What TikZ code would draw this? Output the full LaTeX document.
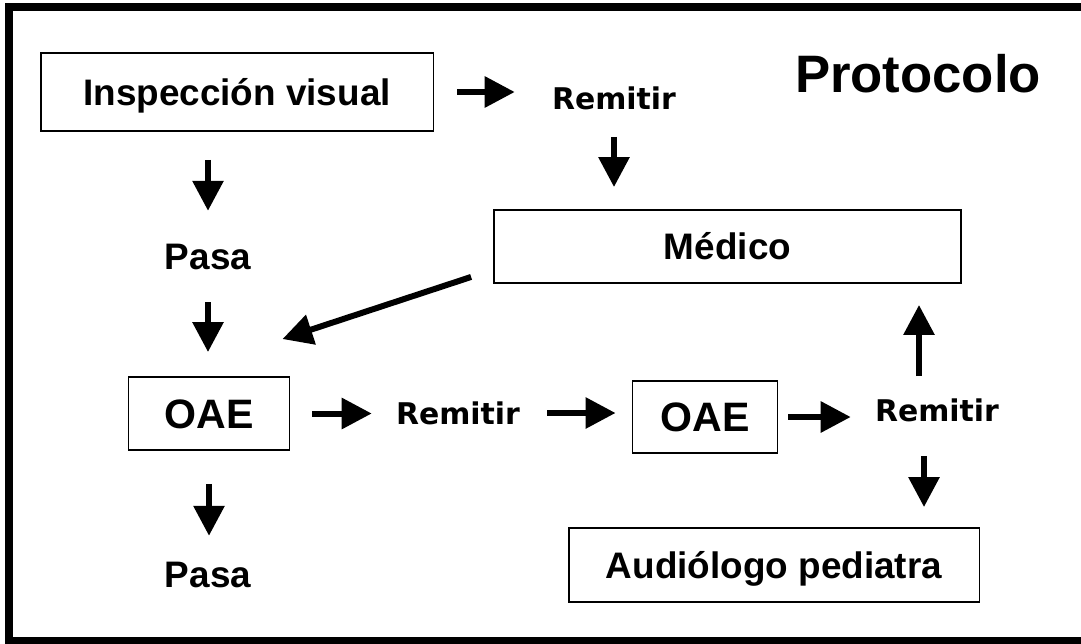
\documentclass[tikz,border=0pt]{standalone}
\usepackage{fontspec}
\setmainfont{Liberation Sans}
\newfontfamily\remfont{DejaVu Sans}
\usetikzlibrary{arrows.meta}

\begin{document}
\begin{tikzpicture}[x=0.02cm, y=-0.02cm,
	box/.style={rectangle, draw=black, line width=1.1pt, inner sep=0pt, text height=15pt, text depth=0pt, font=\fontsize{21}{25}\selectfont\bfseries},
	lbl/.style={inner sep=0pt, font=\fontsize{21}{25}\selectfont\bfseries},
	rem/.style={inner sep=0pt, font=\remfont\fontsize{17}{20}\selectfont\bfseries},
	arr/.style={draw=black, line width=0.12cm, -{Triangle[length=0.6cm, width=0.6cm]}}]
				\useasboundingbox (0,0) rectangle (1081,643);
				\clip (0,0) rectangle (1081,643);
				\draw[line width=0.16cm] (9,7) rectangle (1090,641);
				
				\node[box, minimum width=7.86cm, minimum height=1.56cm] (insp) at (237,92){Inspección visual};
				\node[rem] (rem1) at (614,98){Remitir};
				\node[lbl, font=\fontsize{30}{34}\selectfont\bfseries] (title) at (918,74){Protocolo};
				\node[box, minimum width=9.34cm, minimum height=1.46cm] (medico) at (727.5,246.5){Médico};
				\node[lbl] (pasa1) at (208,257){Pasa};
				\node[box, minimum width=3.22cm, minimum height=1.46cm, text height=16.8pt, font=\fontsize{23.4}{27}\selectfont\bfseries] (oae1) at (209,413.5){OAE};
				\node[rem] (rem2) at (458,413){Remitir};
				\node[box, minimum width=2.9cm, minimum height=1.44cm, text height=16.8pt, font=\fontsize{23.4}{27}\selectfont\bfseries] (oae2) at (705,417){OAE};
				\node[rem] (rem3) at (937,410){Remitir};
				\node[box, minimum width=8.22cm, minimum height=1.48cm] (aud) at (774,565){Audiólogo pediatra};
				\node[lbl] (pasa2) at (208,575){Pasa};
				
				\coordinate (r3n) at ([shift={(-18,0)}]rem3.north);
				\coordinate (r3s) at ([shift={(-13,0)}]rem3.south);
				
				\path (insp.east) edge[arr, shorten <=0.46cm, shorten >=0.74cm] (insp.east -| rem1.west);
				\path (rem1.south) edge[arr, shorten <=0.54cm, shorten >=0.44cm] (rem1.south |- medico.north);
				\path (pasa1.north |- insp.south) edge[arr, shorten <=0.56cm, shorten >=0.66cm] (pasa1.north);
				\path (pasa1.south) edge[arr, shorten <=0.64cm, shorten >=0.48cm] (pasa1.south |- oae1.north);
				\path ([shift={(-22,-7)}]medico.south west) edge[arr] ([shift={(-8,-37)}]oae1.north east);
				\path (oae1.east) edge[arr, shorten <=0.44cm, shorten >=0.48cm] (oae1.east -| rem2.west);
				\path (rem2.east) edge[arr, shorten <=0.54cm, shorten >=0.32cm] (rem2.east -| oae2.west);
				\path (oae2.east) edge[arr, shorten <=0.2cm, shorten >=0.48cm] (oae2.east -| rem3.west);
				\path (r3n) edge[arr, shorten <=0.44cm, shorten >=0.42cm] (r3n |- medico.south);
				\path (r3s) edge[arr, shorten <=0.68cm, shorten >=0.4cm] (r3s |- aud.north);
				\path (oae1.south) edge[arr, shorten <=0.66cm, shorten >=0.52cm] (oae1.south |- pasa2.north);
\end{tikzpicture}
\end{document}
